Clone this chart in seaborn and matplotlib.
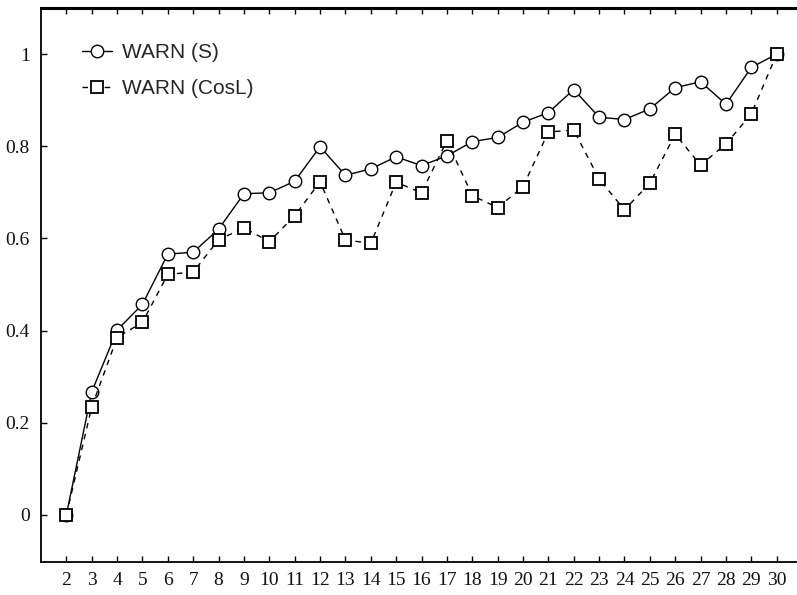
import matplotlib
matplotlib.use("Agg")
import matplotlib.pyplot as plt
import seaborn as sns
import pandas as pd

clusters = list(range(2, 31))
warn_s = [0.0, 0.267, 0.401, 0.457, 0.566, 0.570, 0.620, 0.697, 0.699, 0.724,
          0.799, 0.737, 0.751, 0.777, 0.758, 0.779, 0.810, 0.819, 0.852, 0.873,
          0.923, 0.863, 0.858, 0.881, 0.927, 0.940, 0.891, 0.971, 1.0]
warn_cosl = [0.0, 0.234, 0.385, 0.418, 0.522, 0.527, 0.597, 0.623, 0.593, 0.649,
             0.723, 0.597, 0.589, 0.722, 0.699, 0.812, 0.693, 0.667, 0.712, 0.831,
             0.835, 0.729, 0.662, 0.720, 0.826, 0.759, 0.805, 0.870, 1.0]
y_ticks = [0, 0.2, 0.4, 0.6, 0.8, 1]
y_tick_labels = ["0", "0.2", "0.4", "0.6", "0.8", "1"]
series_names = ["WARN (S)", "WARN (CosL)"]

sns.set_style("white")
fig = plt.figure(figsize=(7.97, 5.95), dpi=100)
ax = fig.add_axes([0.0514, 0.0555, 0.9486, 0.9311])

df_s = pd.DataFrame({"k": clusters, "v": warn_s})
df_c = pd.DataFrame({"k": clusters, "v": warn_cosl})

sns.lineplot(data=df_s, x="k", y="v", ax=ax, color="black", linewidth=1.0,
             marker="o", markersize=9, markerfacecolor="white",
             markeredgecolor="black", markeredgewidth=1.0, label=series_names[0])
sns.lineplot(data=df_c, x="k", y="v", ax=ax, color="black", linewidth=1.0,
             linestyle=(0, (4, 4)), marker="s", markersize=9,
             markerfacecolor="white", markeredgecolor="black",
             markeredgewidth=1.3, label=series_names[1])

ax.set_xlim(1.0, 30.8)
ax.set_ylim(-0.102, 1.1)
ax.set_xticks(clusters)
ax.set_xticklabels([str(c) for c in clusters], family="Liberation Serif", fontsize=14)
ax.set_yticks(y_ticks)
ax.set_yticklabels(y_tick_labels, family="Liberation Serif", fontsize=14)
ax.set_xlabel("")
ax.set_ylabel("")

ax.tick_params(axis="x", direction="in", length=4, width=1, top=True, bottom=True,
               pad=7, colors="black")
ax.tick_params(axis="y", direction="in", length=4, width=1, left=True, pad=8,
               colors="black")
for lab in ax.get_xticklabels() + ax.get_yticklabels():
    lab.set_color("#111111")

for s in ["left", "bottom"]:
    ax.spines[s].set_color("black")
    ax.spines[s].set_linewidth(1.3)
ax.spines["top"].set_color("black")
ax.spines["top"].set_linewidth(2.2)
ax.spines["right"].set_visible(False)

leg = ax.legend(loc="upper left", bbox_to_anchor=(0.03, 0.97), frameon=False,
                handlelength=1.4, handletextpad=0.5, labelspacing=0.8,
                prop={"family": "Liberation Sans", "size": 15})

fig.savefig("out.png", dpi=100)
